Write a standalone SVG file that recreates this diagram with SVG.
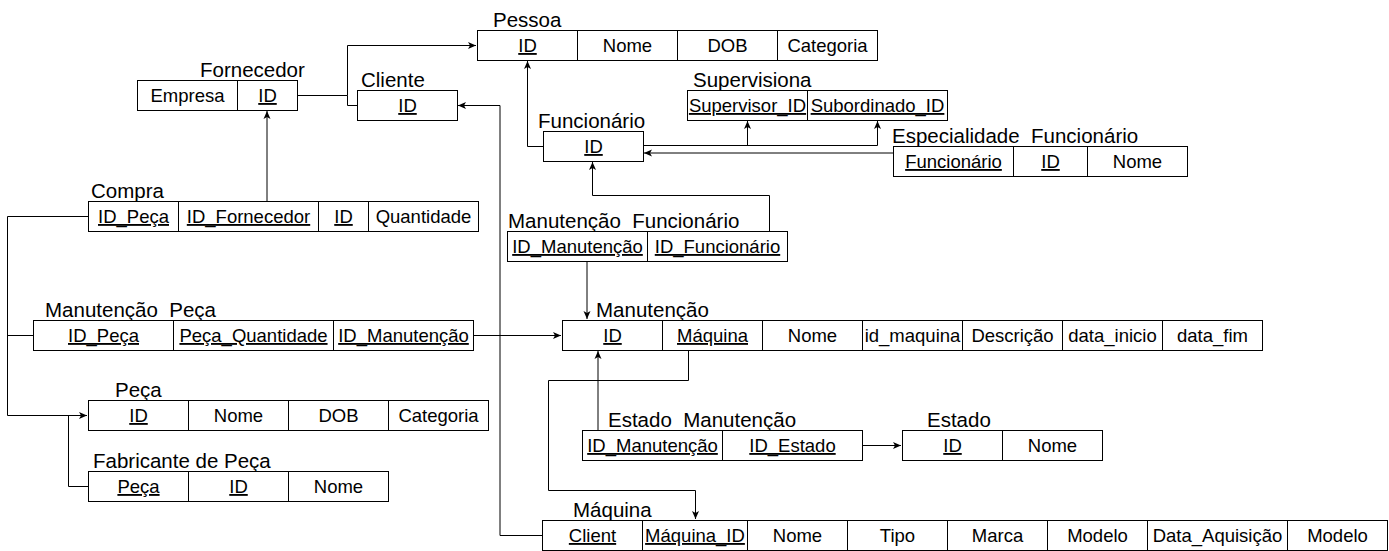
<svg xmlns="http://www.w3.org/2000/svg" width="1389" height="551" viewBox="0 0 1389 551">
<style>
rect{fill:#fff;stroke:#000;stroke-width:1}
.d{stroke:#000;stroke-width:1}
text{font-family:"Liberation Sans",Arial,sans-serif;fill:#000}
.c{font-size:18.5px;text-anchor:middle}
.k{text-decoration:underline}
.h{font-size:20.5px}
.e{fill:none;stroke:#000;stroke-width:1}
</style>
<defs>
<marker id="a" markerUnits="userSpaceOnUse" markerWidth="10" markerHeight="10" refX="8" refY="4" orient="auto">
<path d="M0,0.5 L8,4 L0,7.5 L2,4 z" fill="#000"/>
</marker>
</defs>
<g id="connectors">
<path class="e" d="M297.5,95.5 H347.5 V45.5 H476" marker-end="url(#a)"/>
<path class="e" d="M357,105.5 H347.5 V95.5"/>
<path class="e" d="M542,535.5 H500 V105.5 H458" marker-end="url(#a)"/>
<path class="e" d="M543,146.5 H527.5 V61" marker-end="url(#a)"/>
<path class="e" d="M643,145.5 H877.5 V121" marker-end="url(#a)"/>
<path class="e" d="M747.5,145.5 V121" marker-end="url(#a)"/>
<path class="e" d="M893,153 H644" marker-end="url(#a)"/>
<path class="e" d="M769.5,231 V195.5 H592.5 V162" marker-end="url(#a)"/>
<path class="e" d="M587,261 V319" marker-end="url(#a)"/>
<path class="e" d="M267,201 V111" marker-end="url(#a)"/>
<path class="e" d="M88,216.5 H7.5 V415.5 H87" marker-end="url(#a)"/>
<path class="e" d="M33,335.5 H7.5"/>
<path class="e" d="M68.5,415.5 V486.5 H88"/>
<path class="e" d="M473,335.5 H561" marker-end="url(#a)"/>
<path class="e" d="M598,430 V351" marker-end="url(#a)"/>
<path class="e" d="M862,445.5 H901" marker-end="url(#a)"/>
<path class="e" d="M688.5,350 V380.5 H548.5 V490.5 H695.5 V519" marker-end="url(#a)"/>
</g>
<g id="pessoa">
<text class="h" x="493" y="27">Pessoa</text>
<rect x="477.5" y="30.5" width="400" height="30"/>
<line class="d" x1="577.5" y1="30.5" x2="577.5" y2="60.5"/>
<line class="d" x1="677.5" y1="30.5" x2="677.5" y2="60.5"/>
<line class="d" x1="777.5" y1="30.5" x2="777.5" y2="60.5"/>
<text class="c k" x="527.5" y="52">ID</text>
<text class="c" x="627.5" y="52">Nome</text>
<text class="c" x="727.5" y="52">DOB</text>
<text class="c" x="827.5" y="52">Categoria</text>
</g>
<g id="fornecedor">
<text class="h" x="200" y="77">Fornecedor</text>
<rect x="137.5" y="80.5" width="160" height="30"/>
<line class="d" x1="237.5" y1="80.5" x2="237.5" y2="110.5"/>
<text class="c" x="187.5" y="102">Empresa</text>
<text class="c k" x="267.5" y="102">ID</text>
</g>
<g id="cliente">
<text class="h" x="361" y="87">Cliente</text>
<rect x="357.5" y="90.5" width="100" height="30"/>
<text class="c k" x="407.5" y="112">ID</text>
</g>
<g id="supervisiona">
<text class="h" x="693" y="87">Supervisiona</text>
<rect x="687.5" y="90.5" width="260" height="30"/>
<line class="d" x1="807.5" y1="90.5" x2="807.5" y2="120.5"/>
<text class="c k" x="747.5" y="112">Supervisor_ID</text>
<text class="c k" x="877.5" y="112">Subordinado_ID</text>
</g>
<g id="funcionario">
<text class="h" x="538" y="128">Funcionário</text>
<rect x="543.5" y="131.5" width="100" height="30"/>
<text class="c k" x="593.5" y="153">ID</text>
</g>
<g id="especialidade_funcionario">
<text class="h" x="892" y="143">Especialidade_Funcionário</text>
<rect x="893.5" y="146.5" width="294" height="30"/>
<line class="d" x1="1013.5" y1="146.5" x2="1013.5" y2="176.5"/>
<line class="d" x1="1087.5" y1="146.5" x2="1087.5" y2="176.5"/>
<text class="c k" x="953.5" y="168">Funcionário</text>
<text class="c k" x="1050.5" y="168">ID</text>
<text class="c" x="1137.5" y="168">Nome</text>
</g>
<g id="compra">
<text class="h" x="91" y="198">Compra</text>
<rect x="88.5" y="201.5" width="390" height="30"/>
<line class="d" x1="178.5" y1="201.5" x2="178.5" y2="231.5"/>
<line class="d" x1="318.5" y1="201.5" x2="318.5" y2="231.5"/>
<line class="d" x1="368.5" y1="201.5" x2="368.5" y2="231.5"/>
<text class="c k" x="133.5" y="223">ID_Peça</text>
<text class="c k" x="248.5" y="223">ID_Fornecedor</text>
<text class="c k" x="343.5" y="223">ID</text>
<text class="c" x="423.5" y="223">Quantidade</text>
</g>
<g id="manutencao_funcionario">
<text class="h" x="508" y="228">Manutenção_Funcionário</text>
<rect x="507.5" y="231.5" width="280" height="30"/>
<line class="d" x1="647.5" y1="231.5" x2="647.5" y2="261.5"/>
<text class="c k" x="577.5" y="253">ID_Manutenção</text>
<text class="c k" x="717.5" y="253">ID_Funcionário</text>
</g>
<g id="manutencao_peca">
<text class="h" x="45" y="317">Manutenção_Peça</text>
<rect x="33.5" y="320.5" width="440" height="30"/>
<line class="d" x1="173.5" y1="320.5" x2="173.5" y2="350.5"/>
<line class="d" x1="333.5" y1="320.5" x2="333.5" y2="350.5"/>
<text class="c k" x="103.5" y="342">ID_Peça</text>
<text class="c k" x="253.5" y="342">Peça_Quantidade</text>
<text class="c k" x="403.5" y="342">ID_Manutenção</text>
</g>
<g id="manutencao">
<text class="h" x="596" y="317">Manutenção</text>
<rect x="562.5" y="320.5" width="700" height="30"/>
<line class="d" x1="662.5" y1="320.5" x2="662.5" y2="350.5"/>
<line class="d" x1="762.5" y1="320.5" x2="762.5" y2="350.5"/>
<line class="d" x1="862.5" y1="320.5" x2="862.5" y2="350.5"/>
<line class="d" x1="962.5" y1="320.5" x2="962.5" y2="350.5"/>
<line class="d" x1="1062.5" y1="320.5" x2="1062.5" y2="350.5"/>
<line class="d" x1="1162.5" y1="320.5" x2="1162.5" y2="350.5"/>
<text class="c k" x="612.5" y="342">ID</text>
<text class="c k" x="712.5" y="342">Máquina</text>
<text class="c" x="812.5" y="342">Nome</text>
<text class="c" x="912.5" y="342">id_maquina</text>
<text class="c" x="1012.5" y="342">Descrição</text>
<text class="c" x="1112.5" y="342">data_inicio</text>
<text class="c" x="1212.5" y="342">data_fim</text>
</g>
<g id="peca">
<text class="h" x="115" y="397">Peça</text>
<rect x="88.5" y="400.5" width="400" height="30"/>
<line class="d" x1="188.5" y1="400.5" x2="188.5" y2="430.5"/>
<line class="d" x1="288.5" y1="400.5" x2="288.5" y2="430.5"/>
<line class="d" x1="388.5" y1="400.5" x2="388.5" y2="430.5"/>
<text class="c k" x="138.5" y="422">ID</text>
<text class="c" x="238.5" y="422">Nome</text>
<text class="c" x="338.5" y="422">DOB</text>
<text class="c" x="438.5" y="422">Categoria</text>
</g>
<g id="estado_manutencao">
<text class="h" x="608" y="427">Estado_Manutenção</text>
<rect x="582.5" y="430.5" width="280" height="30"/>
<line class="d" x1="722.5" y1="430.5" x2="722.5" y2="460.5"/>
<text class="c k" x="652.5" y="452">ID_Manutenção</text>
<text class="c k" x="792.5" y="452">ID_Estado</text>
</g>
<g id="estado">
<text class="h" x="927" y="427">Estado</text>
<rect x="902.5" y="430.5" width="200" height="30"/>
<line class="d" x1="1002.5" y1="430.5" x2="1002.5" y2="460.5"/>
<text class="c k" x="952.5" y="452">ID</text>
<text class="c" x="1052.5" y="452">Nome</text>
</g>
<g id="fabricante_de_peca">
<text class="h" x="93" y="468">Fabricante de Peça</text>
<rect x="88.5" y="471.5" width="300" height="30"/>
<line class="d" x1="188.5" y1="471.5" x2="188.5" y2="501.5"/>
<line class="d" x1="288.5" y1="471.5" x2="288.5" y2="501.5"/>
<text class="c k" x="138.5" y="493">Peça</text>
<text class="c k" x="238.5" y="493">ID</text>
<text class="c" x="338.5" y="493">Nome</text>
</g>
<g id="maquina">
<text class="h" x="573" y="517">Máquina</text>
<rect x="542.5" y="520.5" width="845" height="30"/>
<line class="d" x1="642.5" y1="520.5" x2="642.5" y2="550.5"/>
<line class="d" x1="747.5" y1="520.5" x2="747.5" y2="550.5"/>
<line class="d" x1="847.5" y1="520.5" x2="847.5" y2="550.5"/>
<line class="d" x1="947.5" y1="520.5" x2="947.5" y2="550.5"/>
<line class="d" x1="1047.5" y1="520.5" x2="1047.5" y2="550.5"/>
<line class="d" x1="1147.5" y1="520.5" x2="1147.5" y2="550.5"/>
<line class="d" x1="1287.5" y1="520.5" x2="1287.5" y2="550.5"/>
<text class="c k" x="592.5" y="542">Client</text>
<text class="c k" x="695" y="542">Máquina_ID</text>
<text class="c" x="797.5" y="542">Nome</text>
<text class="c" x="897.5" y="542">Tipo</text>
<text class="c" x="997.5" y="542">Marca</text>
<text class="c" x="1097.5" y="542">Modelo</text>
<text class="c" x="1217.5" y="542">Data_Aquisição</text>
<text class="c" x="1337.5" y="542">Modelo</text>
</g>
</svg>
